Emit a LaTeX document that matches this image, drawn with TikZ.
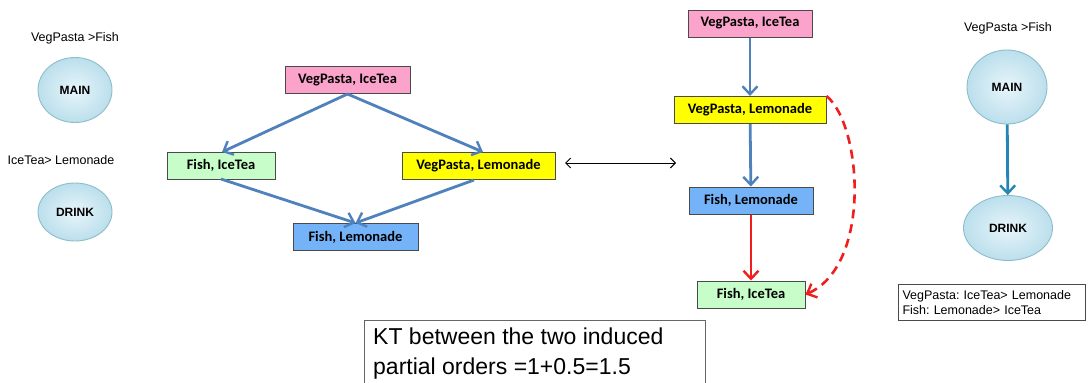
\documentclass[tikz,border=0pt]{standalone}
\usepackage{fontspec}
\setmainfont{Liberation Sans}
\newfontfamily\boxfont{Carlito}
\usetikzlibrary{arrows.meta,shapes.geometric}
\definecolor{pinkfill}{HTML}{FBA3CB}
\definecolor{greenfill}{HTML}{C6FDC9}
\definecolor{yellowfill}{HTML}{FFFF00}
\definecolor{bluefill}{HTML}{75B3F8}
\definecolor{boxline}{HTML}{4A4A4A}
\definecolor{edgeblue}{HTML}{4F81BD}
\definecolor{edgeteal}{HTML}{2585B5}
\definecolor{edgered}{HTML}{F01E1E}
\definecolor{ellin}{HTML}{E8F5FA}
\definecolor{ellout}{HTML}{BBDFEC}
\definecolor{ellline}{HTML}{8DBDCD}
\tikzset{
  x=1pt, y=-1pt,
  state/.style={draw=boxline, line width=1pt, minimum height=27pt, inner sep=0pt,
    font=\boxfont\bfseries\fontsize{14.5}{16}\selectfont},
  attr/.style={ellipse, draw=ellline, line width=0.9pt, inner color=ellin, outer color=ellout,
    font=\bfseries\fontsize{12}{13}\selectfont},
  note/.style={font=\fontsize{12.5}{14}\selectfont, inner sep=0pt},
  barb/.style={-{Straight Barb[length=8pt,width=15pt,line width=2.4pt]}},
  blueedge/.style={draw=edgeblue, line width=2.8pt, barb},
  rededge/.style={draw=edgered, line width=2.8pt, barb},
  tealedge/.style={draw=edgeteal, line width=2.8pt, barb},
}
\begin{document}
\frenchspacing
\begin{tikzpicture}
\useasboundingbox (0,0) rectangle (1088,383);
\fill[white] (0,0) rectangle (1088,383);

% attribute nodes, left
\node[note] (lmainlbl) at (75,38) {VegPasta >Fish};
\node[attr, minimum width=74pt, minimum height=65pt] (lmain) at (75,90) {MAIN};
\node[note] (ldrinklbl) at (61,160) {IceTea> Lemonade};
\node[attr, minimum width=74pt, minimum height=58pt] (ldrink) at (75,212) {DRINK};

% induced order on outcomes, left
\node[state, fill=pinkfill, minimum width=125pt] (a1) at (347.5,80) {VegPasta, IceTea};
\node[state, fill=greenfill, minimum width=108pt] (a2) at (221,165.5) {Fish, IceTea};
\node[state, fill=yellowfill, minimum width=153pt] (a3) at (478.5,166) {VegPasta, Lemonade};
\node[state, fill=bluefill, minimum width=125pt] (a4) at (355.5,237) {Fish, Lemonade};
\draw[blueedge] (a1.south) -- (222,152);
\draw[blueedge] (a1.south) -- (483,152);
\draw[blueedge] (221,179) -- (a4.north);
\draw[blueedge] (474,180) -- (a4.north);

% correspondence between the two orders
\coordinate (dl) at (565,163);
\coordinate (dr) at (676,163);
\draw[line width=1pt, {Straight Barb[length=5pt,width=10pt]}-{Straight Barb[length=5pt,width=10pt]}] (dl) -- (dr);

% induced order on outcomes, right
\node[state, fill=pinkfill, minimum width=124pt] (b1) at (750,23.5) {VegPasta, IceTea};
\node[state, fill=yellowfill, minimum width=152pt] (b2) at (750,110) {VegPasta, Lemonade};
\node[state, fill=bluefill, minimum width=124pt] (b3) at (751,200.5) {Fish, Lemonade};
\node[state, fill=greenfill, minimum width=108pt] (b4) at (751,294.5) {Fish, IceTea};
\draw[blueedge] (b1) -- (b2);
\draw[blueedge] (b2) -- (b3);
\draw[rededge] (b3) -- (b4);
\draw[draw=edgered, line width=2.6pt, dash pattern=on 9pt off 6pt, barb]
  (b2.north east) .. controls (862,125) and (872,265) .. (b4.east);

% attribute nodes, right
\node[note] (rmainlbl) at (1008,28) {VegPasta >Fish};
\node[attr, minimum width=80pt, minimum height=74pt] (rmain) at (1007,87) {MAIN};
\node[attr, minimum width=89pt, minimum height=65pt] (rdrink) at (1008,228) {DRINK};
\draw[tealedge] (rmain) -- (rdrink);
\node[draw=boxline, line width=0.9pt, align=left, font=\fontsize{12.5}{15}\selectfont,
  inner sep=0pt, minimum width=187pt, minimum height=36pt, text width=178pt] (cpt) at (991.5,302.5)
  {VegPasta: IceTea> Lemonade\\Fish: Lemonade> IceTea};

% distance note
\draw[draw=gray!80!black, line width=1pt] (364,320) rectangle (705,392);
\node[anchor=north west, align=left, inner sep=0pt, font=\fontsize{23}{30}\selectfont] (kt) at (373,328)
  {KT between the two induced\\partial orders =1+0.5=1.5};
\end{tikzpicture}
\end{document}
